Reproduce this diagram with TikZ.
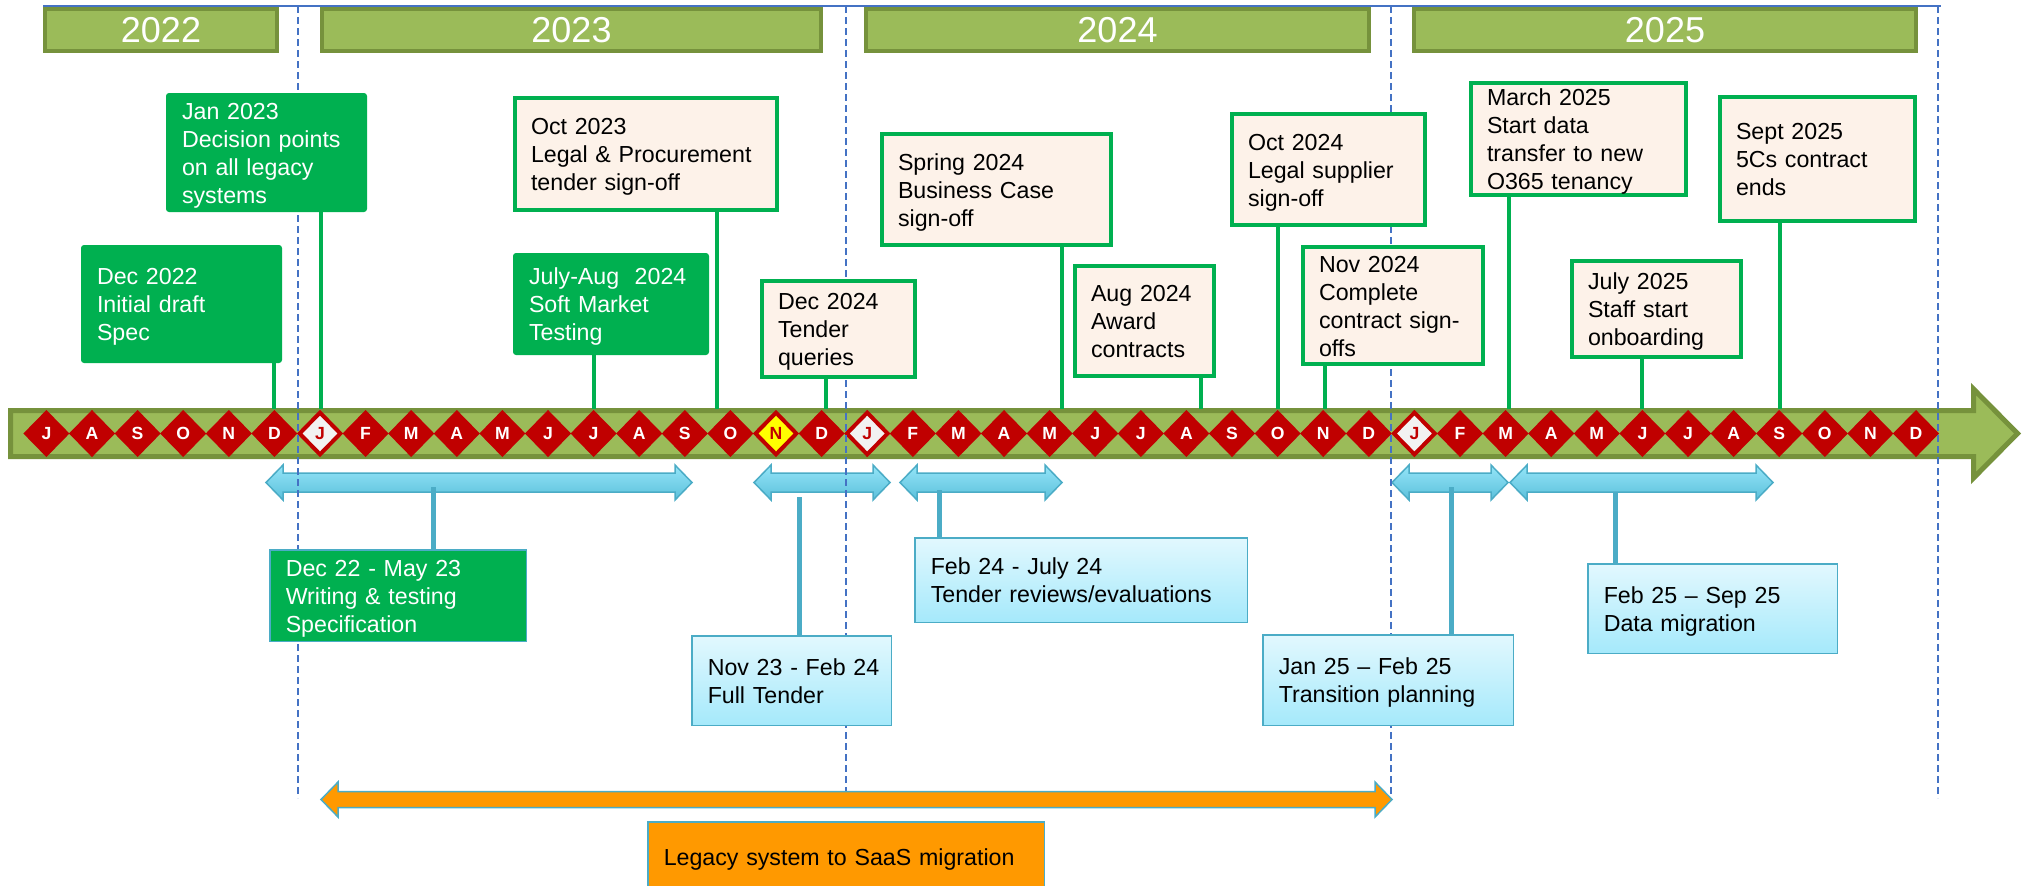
\documentclass[tikz,border=0pt]{standalone}
\usepackage{fontspec}
\setmainfont{Liberation Sans}
\usetikzlibrary{shapes.geometric}
\definecolor{evgreen}{HTML}{00B050}
\definecolor{cream}{HTML}{FDF2E9}
\definecolor{olive}{HTML}{9BBB59}
\definecolor{olivedark}{HTML}{76923C}
\definecolor{cRed}{HTML}{C00000}
\definecolor{cBlueLine}{HTML}{4472C4}
\definecolor{cCyanEdge}{HTML}{4BACC6}
\definecolor{cCyanTop}{HTML}{95E5F8}
\definecolor{cCyanBot}{HTML}{5BC0DB}
\definecolor{cBoxTop}{HTML}{E2F8FE}
\definecolor{cBoxBot}{HTML}{A5E9FB}
\definecolor{cOrange}{HTML}{FF9900}
\definecolor{cYellow}{HTML}{FFFF00}
\definecolor{cWhiteD}{HTML}{F2F2F2}

\newcommand\boxlines[1]{\raisebox{-1.6pt}[\height][\depth]{\begin{tabular}{@{}l@{}}#1\end{tabular}}}
% name, x1, y1, x2, y2, style, inset(px), text
\newcommand\evbox[8]{%
  \pgfmathsetmacro\evW{(#4-#2-#7)*0.5}%
  \pgfmathsetmacro\evTW{(#4-#2-#7)*0.5-16}%
  \pgfmathsetmacro\evH{(#5-#3-#7)*0.5}%
  \node[#6, minimum width=\evW pt, minimum height=\evH pt, text width=\evTW pt]
    (#1) at ({(#2+#4)/2},{(#3+#5)/2}) {\boxlines{#8}};}
% style, x1, x2, yc, shaft half height
\newcommand\dblarrow[5]{%
  \draw[#1] (#2,#4) -- (#2+17,#4-17.5) -- (#2+17,#4-#5) -- (#3-17,#4-#5)
    -- (#3-17,#4-17.5) -- (#3,#4) -- (#3-17,#4+17.5) -- (#3-17,#4+#5)
    -- (#2+17,#4+#5) -- (#2+17,#4+17.5) -- cycle;}

\tikzset{
  yearbar/.style={fill=olive, draw=olivedark, line width=2pt, text=white,
    font=\fontsize{18}{18}\selectfont, inner sep=0pt},
  boxtxt/.style={font=\fontsize{11.6}{14}\selectfont, align=left, inner xsep=8pt, inner ysep=0pt},
  greenbox/.style={boxtxt, fill=evgreen, text=white, rounded corners=1.5pt},
  creambox/.style={boxtxt, fill=cream, draw=evgreen, line width=2pt, text=black},
  bluebox/.style={boxtxt, top color=cBoxTop, bottom color=cBoxBot, draw=cCyanEdge, line width=0.75pt, text=black},
  specbox/.style={boxtxt, fill=evgreen, draw=cCyanEdge, line width=0.75pt, text=white},
  orangebox/.style={boxtxt, fill=cOrange, draw=cCyanEdge, line width=0.75pt, text=black},
  month/.style={diamond, inner sep=0pt, minimum width=23.2pt, minimum height=23.7pt,
    font=\fontsize{8.8}{8.8}\selectfont\bfseries},
  mred/.style={month, fill=cRed, text=white},
  mwhite/.style={month, fill=cWhiteD, draw=cRed, line width=2pt, minimum width=21.2pt, minimum height=21.7pt, text=cRed},
  myellow/.style={month, fill=cYellow, draw=cRed, line width=2pt, minimum width=21.2pt, minimum height=21.7pt, text=cRed},
  gconn/.style={draw=evgreen, line width=2pt},
  bconn/.style={draw=cCyanEdge, line width=2.5pt},
  vdash/.style={draw=cBlueLine, line width=0.8pt, dash pattern=on 3.5pt off 2pt},
  spanarrow/.style={draw=cCyanEdge, line width=0.75pt, top color=cCyanTop, bottom color=cCyanBot},
  orangearrow/.style={draw=cCyanEdge, line width=0.75pt, fill=cOrange},
  mainbar/.style={fill=olive, draw=olivedark, line width=2.5pt, line join=miter},
}

\begin{document}
\begin{tikzpicture}[x=0.5pt,y=-0.5pt]
\useasboundingbox (0,0) rectangle (2029,885);
\clip (0,0) rectangle (2029,885);

% top line
\coordinate (tl) at (43,6);
\coordinate (tr) at (1941,6);
\draw[cBlueLine, line width=1pt] (tl) -- (tr);

% year bars
\node[yearbar, minimum width={(279-43-4)*0.5pt}, minimum height=21pt] (y2022) at (161,30) {2022};
\node[yearbar, minimum width={(823-320-4)*0.5pt}, minimum height=21pt] (y2023) at (571.5,30) {2023};
\node[yearbar, minimum width={(1371-864-4)*0.5pt}, minimum height=21pt] (y2024) at (1117.5,30) {2024};
\node[yearbar, minimum width={(1918-1412-4)*0.5pt}, minimum height=21pt] (y2025) at (1665,30) {2025};

% main timeline arrow
\draw[mainbar] (10.5,410.5) -- (1973.5,410.5) -- (1973.5,389) -- (2017.5,433.5)
  -- (1973.5,478) -- (1973.5,456.5) -- (10.5,456.5) -- cycle;

% month diamonds
\foreach \mm [count=\i from 0] in {J,A,S,O,N,D,J,F,M,A,M,J,J,A,S,O,N,D,J,F,M,A,M,J,J,A,S,O,N,D,J,F,M,A,M,J,J,A,S,O,N,D} {
  \def\st{mred}
  \ifnum\i=6 \def\st{mwhite}\fi
  \ifnum\i=18 \def\st{mwhite}\fi
  \ifnum\i=30 \def\st{mwhite}\fi
  \ifnum\i=16 \def\st{myellow}\fi
  \pgfmathsetmacro\mx{46.4+45.6*\i}
  \edef\tmp{\noexpand\node[\st] (m\i) at (\mx,433.5) {\mm};}
  \tmp
}

% span arrows
\dblarrow{spanarrow}{266}{692}{482.5}{9.5}
\dblarrow{spanarrow}{754}{890}{482.5}{9.5}
\dblarrow{spanarrow}{900}{1062}{482.5}{9.5}
\dblarrow{spanarrow}{1392}{1508}{482.5}{9.5}
\dblarrow{spanarrow}{1510}{1773}{482.5}{9.5}

% dashed year separators
\foreach \xx/\nm in {298/da, 846/db, 1391/dc, 1938/dd} {
  \coordinate (\nm t) at (\xx,6);
  \coordinate (\nm b) at (\xx,798);
  \draw[vdash] (\nm t) -- (\nm b);
}

% orange arrow
\dblarrow{orangearrow}{321}{1392}{799.5}{8}

% event boxes above the timeline
\evbox{jan23}{166}{93}{367}{212}{greenbox}{0}{Jan 2023\\Decision points\\on all legacy\\systems}
\evbox{dec22}{81}{245}{282}{363}{greenbox}{0}{Dec 2022\\Initial draft\\Spec}
\evbox{julaug}{513}{253}{709}{355}{greenbox}{0}{July-Aug\ \ 2024\\Soft Market\\Testing}
\evbox{oct23}{513}{96}{779}{212}{creambox}{4}{Oct 2023\\Legal \& Procurement\\tender sign-off}
\evbox{spring24}{880}{132}{1113}{247}{creambox}{4}{Spring 2024\\Business Case\\sign-off}
\evbox{dec24}{760}{279}{917}{379}{creambox}{4}{Dec 2024\\Tender\\queries}
\evbox{aug24}{1073}{264}{1216}{378}{creambox}{4}{Aug 2024\\Award\\contracts}
\evbox{oct24}{1230}{112}{1427}{227}{creambox}{4}{Oct 2024\\Legal supplier\\sign-off}
\evbox{nov24}{1301}{245}{1485}{366}{creambox}{4}{Nov 2024\\Complete\\contract sign-\\offs}
\evbox{mar25}{1469}{81}{1688}{197}{creambox}{4}{March 2025\\Start data\\transfer to new\\O365 tenancy}
\evbox{jul25}{1570}{259}{1743}{359}{creambox}{4}{July 2025\\Staff start\\onboarding}
\evbox{sep25}{1718}{95}{1917}{223}{creambox}{4}{Sept 2025\\5Cs contract\\ends}

% boxes below the timeline
\evbox{spec}{269}{549}{527}{642}{specbox}{1.5}{Dec 22 - May 23\\Writing \& testing\\Specification}
\evbox{fulltender}{691}{635}{892}{726}{bluebox}{1.5}{Nov 23 - Feb 24\\Full Tender}
\evbox{reviews}{914}{537}{1248}{623}{bluebox}{1.5}{Feb 24 - July 24\\Tender reviews/evaluations}
\evbox{transition}{1262}{634}{1514}{726}{bluebox}{1.5}{Jan 25 – Feb 25\\Transition planning}
\evbox{datamig}{1587}{563}{1838}{654}{bluebox}{1.5}{Feb 25 – Sep 25\\Data migration}
\evbox{legacy}{647}{821}{1045}{893}{orangebox}{1.5}{Legacy system to SaaS migration}

% green connectors to the timeline
\coordinate (k1) at (274.4,409);
\coordinate (k2) at (320.8,409);
\coordinate (k3) at (594,409);
\coordinate (k4) at (717,409);
\coordinate (k5) at (826,409);
\coordinate (k6) at (1062,409);
\coordinate (k7) at (1201,409);
\coordinate (k8) at (1278,409);
\coordinate (k9) at (1325,409);
\coordinate (k10) at (1509,409);
\coordinate (k11) at (1642,409);
\coordinate (k12) at (1780,409);
\draw[gconn] (dec22.south -| k1) -- (k1);
\draw[gconn] (jan23.south -| k2) -- (k2);
\draw[gconn] (julaug.south -| k3) -- (k3);
\draw[gconn] (oct23.south -| k4) -- (k4);
\draw[gconn] (dec24.south -| k5) -- (k5);
\draw[gconn] (spring24.south -| k6) -- (k6);
\draw[gconn] (aug24.south -| k7) -- (k7);
\draw[gconn] (oct24.south -| k8) -- (k8);
\draw[gconn] (nov24.south -| k9) -- (k9);
\draw[gconn] (mar25.south -| k10) -- (k10);
\draw[gconn] (jul25.south -| k11) -- (k11);
\draw[gconn] (sep25.south -| k12) -- (k12);

% blue connectors from span arrows to boxes
\coordinate (b1) at (433,487);
\coordinate (b2) at (799,497);
\coordinate (b3) at (939,490);
\coordinate (b4) at (1451,487);
\coordinate (b5) at (1615.5,492);
\draw[bconn] (b1) -- (b1 |- spec.north);
\draw[bconn] (b2) -- (b2 |- fulltender.north);
\draw[bconn] (b3) -- (b3 |- reviews.north);
\draw[bconn] (b4) -- (b4 |- transition.north);
\draw[bconn] (b5) -- (b5 |- datamig.north);
\end{tikzpicture}
\end{document}
